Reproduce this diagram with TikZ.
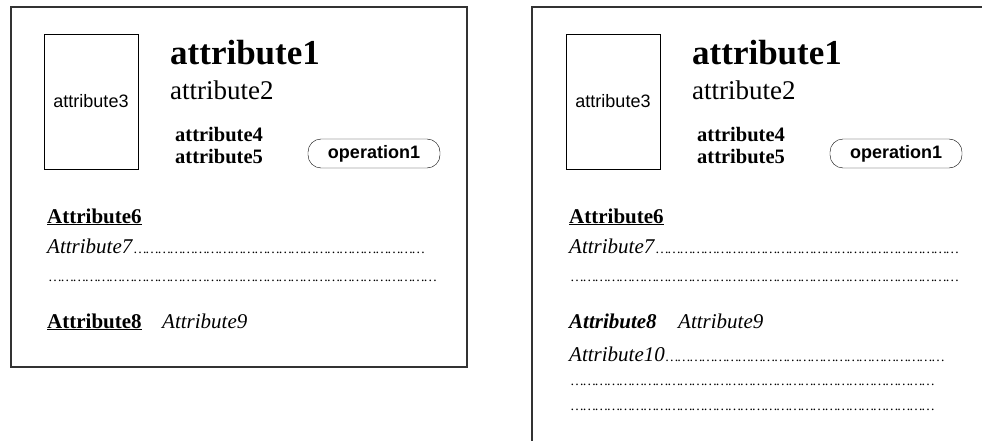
\documentclass[tikz,border=0pt]{standalone}
\usepackage{fontspec}
\setmainfont{Liberation Serif}
\newfontfamily\arialfont{Liberation Sans}
\usetikzlibrary{positioning}

\newcommand\dotrun[1]{{\fontsize{14}{16}\selectfont\foreach\k in {1,...,#1}{…\hspace{-1.9pt}}}}

\begin{document}
\begin{tikzpicture}[x=1pt,y=-1pt,
  txt/.style={anchor=base west,inner sep=0pt},
  bigbold/.style={txt,font=\bfseries\fontsize{35}{40}\selectfont},
  mid/.style={txt,font=\fontsize{27}{32}\selectfont},
  boldtxt/.style={txt,font=\bfseries\fontsize{20.5}{24}\selectfont},
  body/.style={txt,font=\fontsize{21}{25}\selectfont},
  picbox/.style={draw,font=\arialfont\fontsize{18}{21}\selectfont,minimum width=94pt,minimum height=135pt,inner sep=0pt},
  pill/.style={draw,rounded corners=13pt,font=\arialfont\bfseries\fontsize{18}{21}\selectfont,minimum width=132pt,minimum height=29pt,inner sep=0pt},
  frame/.style={line width=1.4pt,black!80}]
  \useasboundingbox (0,0) rectangle (982,441);
  % left card
  \begin{scope}
    \draw[frame] (11,7) rectangle (467,367);
    \node[picbox] (lphoto) at (91,101.5) {attribute3};
    \node[bigbold] (lname) at (170,65) {attribute1};
    \node[mid] (lsub) at (170,100) {attribute2};
    \node[boldtxt] (lattr4) at (175,142) {attribute4};
    \node[boldtxt] (lattr5) at (175,164) {attribute5};
    \node[pill] (lop) at (374,153.5) {operation1};
    \node[body,font=\bfseries\fontsize{21}{25}\selectfont] (lattr6) at (47,223) {\underline{Attribute6}};
    \node[body] (lattr7) at (47,253) {\textit{Attribute7}\dotrun{24}};
    \node[body] (ldots1) at (48,281) {\dotrun{32}};
    \node[body] (lattr8) at (47,328) {\textbf{\underline{Attribute8}}};
    \node[body] (lattr9) at (162,328) {\textit{Attribute9}};
  \end{scope}
  % right card
  \begin{scope}[shift={(522,0)}]
    \draw[frame] (460,7) -- (10,7) -- (10,441);
    \node[picbox] (rphoto) at (91,101.5) {attribute3};
    \node[bigbold] (rname) at (170,65) {attribute1};
    \node[mid] (rsub) at (170,100) {attribute2};
    \node[boldtxt] (rattr4) at (175,142) {attribute4};
    \node[boldtxt] (rattr5) at (175,164) {attribute5};
    \node[pill] (rop) at (374,153.5) {operation1};
    \node[body,font=\bfseries\fontsize{21}{25}\selectfont] (rattr6) at (47,223) {\underline{Attribute6}};
    \node[body] (rattr7) at (47,253) {\textit{Attribute7}\dotrun{25}};
    \node[body] (rdots1) at (48,281) {\dotrun{32}};
    \node[body] (rattr8) at (47,328) {\textbf{\textit{Attribute8}}};
    \node[body] (rattr9) at (156,328) {\textit{Attribute9}};
    \node[body] (rattr10) at (47,361) {\textit{Attribute10}\dotrun{23}};
    \node[body] (rdots2) at (48,385) {\dotrun{30}};
    \node[body] (rdots3) at (48,410) {\dotrun{30}};
  \end{scope}
\end{tikzpicture}
\end{document}
